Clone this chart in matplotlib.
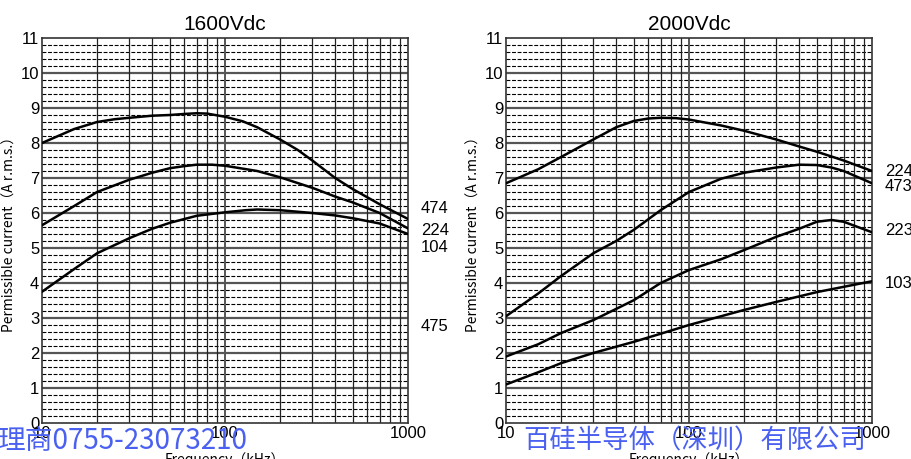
import numpy as np
import matplotlib
matplotlib.use("Agg")
import matplotlib.pyplot as plt
from matplotlib.ticker import FixedLocator, NullFormatter

plt.rcParams['font.family'] = ['Liberation Sans', 'Noto Sans CJK JP', 'DejaVu Sans']

##### Data
# 1600Vdc panel
f_1600_474 = [10, 15, 20, 25, 30, 40, 50, 60, 70, 80, 100, 125, 150, 200, 250, 300, 400, 500, 700, 1000]
i_1600_474 = [8.0, 8.4, 8.6, 8.68, 8.72, 8.78, 8.8, 8.83, 8.85, 8.84, 8.75, 8.62, 8.45, 8.1, 7.8, 7.5,
              7.0, 6.68, 6.25, 5.83]
f_1600_224 = [10, 15, 20, 30, 40, 50, 60, 70, 85, 100, 150, 200, 300, 400, 500, 700, 1000]
i_1600_224 = [5.65, 6.2, 6.6, 6.95, 7.15, 7.28, 7.34, 7.38, 7.38, 7.35, 7.2, 7.02, 6.72, 6.47, 6.3,
              6.0, 5.56]
f_1600_104 = [10, 15, 20, 30, 40, 50, 70, 100, 130, 150, 200, 300, 400, 500, 700, 1000]
i_1600_104 = [3.75, 4.4, 4.85, 5.28, 5.55, 5.72, 5.92, 6.02, 6.08, 6.1, 6.08, 6.0, 5.93, 5.85, 5.7, 5.4]
labels_1600 = ["474", "224", "104", "475"]
label_y_1600 = [6.14, 5.5, 5.0, 2.75]

# 2000Vdc panel
f_2000_224 = [10, 15, 20, 30, 40, 50, 60, 70, 85, 100, 150, 200, 300, 400, 500, 700, 1000]
i_2000_224 = [6.85, 7.25, 7.6, 8.1, 8.45, 8.63, 8.7, 8.72, 8.71, 8.67, 8.5, 8.35, 8.1, 7.9, 7.75,
              7.5, 7.2]
f_2000_473 = [10, 15, 20, 30, 40, 50, 70, 100, 150, 200, 300, 400, 500, 600, 700, 1000]
i_2000_473 = [3.05, 3.7, 4.2, 4.85, 5.2, 5.52, 6.08, 6.6, 6.98, 7.15, 7.3, 7.38, 7.37, 7.3, 7.2, 6.85]
f_2000_223 = [10, 15, 20, 30, 40, 50, 70, 100, 150, 200, 300, 400, 500, 600, 700, 1000]
i_2000_223 = [1.9, 2.25, 2.57, 2.94, 3.26, 3.51, 4.0, 4.37, 4.68, 4.94, 5.32, 5.55, 5.75, 5.8, 5.75, 5.45]
f_2000_103 = [10, 15, 20, 30, 50, 70, 100, 200, 300, 500, 1000]
i_2000_103 = [1.1, 1.45, 1.71, 2.0, 2.32, 2.55, 2.8, 3.23, 3.46, 3.74, 4.05]
labels_2000 = ["224", "473", "223", "103"]
label_y_2000 = [7.2, 6.75, 5.5, 4.0]

titles = ["1600Vdc", "2000Vdc"]
x_ticks = [10, 100, 1000]
x_ticklabels = ["10", "100", "1000"]
y_ticks = list(range(0, 12))

fig = plt.figure(figsize=(9.12, 4.59), dpi=100)
ax1 = fig.add_axes([42 / 912, 1 - 423 / 459, 366 / 912, 385 / 459])
ax2 = fig.add_axes([506 / 912, 1 - 423 / 459, 366 / 912, 385 / 459])

panels = [
    (ax1, [(f_1600_474, i_1600_474), (f_1600_224, i_1600_224), (f_1600_104, i_1600_104)],
     labels_1600, label_y_1600, titles[0]),
    (ax2, [(f_2000_224, i_2000_224), (f_2000_473, i_2000_473), (f_2000_223, i_2000_223),
           (f_2000_103, i_2000_103)],
     labels_2000, label_y_2000, titles[1]),
]

for ax, series, labels, label_y, title in panels:
    ax.set_xscale("log")
    ax.set_xlim(10, 1000)
    ax.set_ylim(0, 11)

    # grid: dashed minor horizontals every 0.2, solid integers, solid log verticals
    for y in np.arange(0.2, 11, 0.2):
        if abs(y - round(y)) < 1e-6:
            continue
        ax.axhline(y, color="black", lw=0.8, ls=(0, (3.5, 1.5)), zorder=1)
    for y in range(1, 11):
        ax.axhline(y, color="#555555", lw=1.6, zorder=1)
    for dec in [10, 100]:
        for m in range(2, 10):
            ax.axvline(dec * m, color="#222222", lw=0.9, zorder=1)
    ax.axvline(100, color="#555555", lw=1.4, zorder=1)

    for f, cur in series:
        ax.plot(f, cur, color="black", lw=1.8, zorder=3, solid_capstyle="round",
                solid_joinstyle="round")

    for lab, yv in zip(labels, label_y):
        ax.text(1.035, yv, lab, transform=ax.get_yaxis_transform(), fontsize=12,
                ha="left", va="center")

    ax.xaxis.set_major_locator(FixedLocator(x_ticks))
    ax.set_xticklabels(x_ticklabels)
    ax.xaxis.set_minor_formatter(NullFormatter())
    ax.set_yticks(y_ticks)
    ax.tick_params(which="both", length=0, labelsize=12, pad=2)
    for s in ax.spines.values():
        s.set_linewidth(1.2)
        s.set_color("#333333")

    ax.set_title(title, fontsize=15, pad=6)
    ax.set_ylabel("Permissible current（A r.m.s.）", fontsize=10,
                  family=["Noto Sans CJK JP", "DejaVu Sans"], labelpad=3)
    ax.set_xlabel("Frequency（kHz）", fontsize=10,
                  family=["Noto Sans CJK JP", "DejaVu Sans"], labelpad=0)
    ax.xaxis.set_label_coords(0.5, -0.075)

# watermark texts overlaid on the image
fig.text(-0.003, 1 - 441 / 459, "理商0755-23073210", color="#4a60f0", fontsize=20,
         family=["Noto Sans CJK SC", "DejaVu Sans"], ha="left", va="center", zorder=10)
fig.text(695 / 912, 1 - 441 / 459, "百硅半导体（深圳）有限公司", color="#4a60f0", fontsize=19,
         family=["Noto Sans CJK SC", "DejaVu Sans"], ha="center", va="center", zorder=10)

fig.savefig("out.png", dpi=100)
